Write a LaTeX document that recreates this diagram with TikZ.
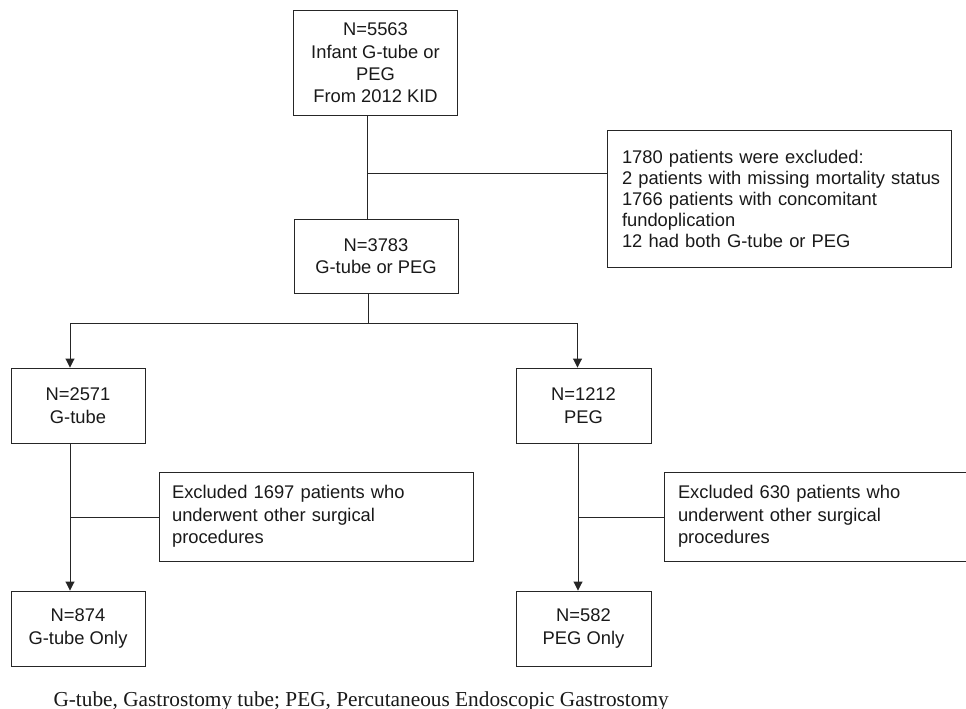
\documentclass[tikz,border=0pt]{standalone}
\usepackage{fontspec}
\setmainfont{Liberation Sans}
\newfontfamily\footfont{Liberation Serif}
\usetikzlibrary{arrows.meta}
\begin{document}
\begin{tikzpicture}[x=1pt,y=-1pt,
  box/.style={draw=black!85, line width=0.9pt, rectangle, inner sep=0pt, align=center,
    font=\fontsize{18.35}{22.4}\selectfont, text=black!90},
  exbox/.style={box, align=left},
  conn/.style={draw=black!85, line width=0.9pt},
  arr/.style={conn, -{Triangle[width=9pt,length=9pt]}}]
\useasboundingbox (0,0) rectangle (966,709);

% main boxes
\node[box, minimum width=164pt, minimum height=104.5pt] (top) at (375.5,63)
  {N=5563\\Infant G-tube or\\PEG\\From 2012 KID};
\node[box, minimum width=164pt, minimum height=74pt] (mid) at (376,256)
  {N=3783\\G-tube or PEG};
\node[box, minimum width=134pt, minimum height=75pt] (gt) at (78,405.5)
  {N=2571\\G-tube};
\node[box, minimum width=135pt, minimum height=75pt] (peg) at (583.5,405.5)
  {N=1212\\PEG};
\node[box, minimum width=134pt, minimum height=75pt] (gto) at (78,628.5)
  {N=874\\G-tube Only};
\node[box, minimum width=135pt, minimum height=75pt] (pego) at (583.5,628.5)
  {N=582\\PEG Only};

% exclusion boxes
\node[exbox, font=\fontsize{18.35}{21}\selectfont, minimum width=344pt, minimum height=137pt,
  inner xsep=15pt, text width=314pt] (ex1) at (779,198.5)
  {1780 patients were excluded:\\\mbox{2 patients with missing mortality status}\\1766 patients with concomitant\\fundoplication\\12 had both G-tube or PEG};
\node[exbox, minimum width=313.7pt, minimum height=89pt,
  inner xsep=12.7pt, text width=288.3pt] (ex2) at (316.2,516.5)
  {Excluded 1697 patients who\\underwent other surgical\\procedures};
\node[exbox, minimum width=304pt, minimum height=89pt,
  inner xsep=14pt, text width=276pt] (ex3) at (816,516.5)
  {Excluded 630 patients who\\underwent other surgical\\procedures};

% connectors
\coordinate (v1) at (367.5,0);
\coordinate (j1) at (367.5,173.5);
\draw[conn] (top.south -| v1) -- (mid.north -| v1);
\draw[conn] (j1) -- (ex1.west |- j1);

\coordinate (b0) at (368,323);
\coordinate (bl) at (70,323);
\coordinate (br) at (577.5,323);
\draw[conn] (mid.south -| b0) -- (b0);
\draw[conn] (bl) -- (br);
\draw[arr] (bl) -- (gt.north -| bl);
\draw[arr] (br) -- (peg.north -| br);

\coordinate (ll) at (70,517);
\coordinate (rl) at (578,517);
\draw[arr] (gt.south -| ll) -- (gto.north -| ll);
\draw[conn] (ll) -- (ex2.west |- ll);
\draw[arr] (peg.south -| rl) -- (pego.north -| rl);
\draw[conn] (rl) -- (ex3.west |- rl);

% footnote
\node[anchor=base west, inner sep=0pt, text=black!90,
  font=\footfont\fontsize{21.3}{25}\selectfont] (fn) at (53.3,706)
  {G-tube, Gastrostomy tube; PEG, Percutaneous Endoscopic Gastrostomy};
\end{tikzpicture}
\end{document}
